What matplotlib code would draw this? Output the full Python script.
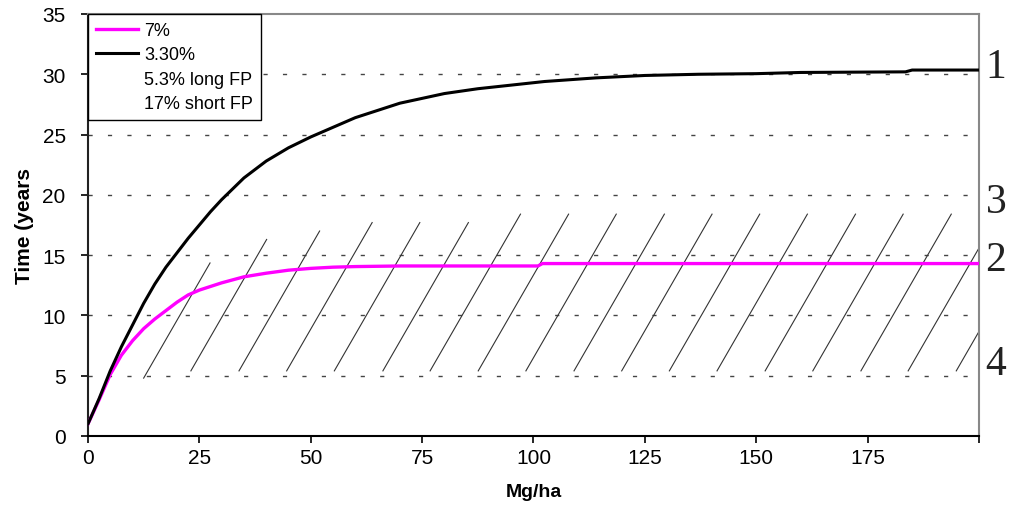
import matplotlib
matplotlib.use("Agg")
import matplotlib.pyplot as plt
from matplotlib.lines import Line2D
import numpy as np

plt.rcParams["font.family"] = ["Liberation Sans", "DejaVu Sans"]

# curves
black_x = [0, 2.5, 5, 7.5, 10, 12.5, 15, 17.5, 20, 22.5, 25, 27.5, 30, 32.5, 35,
           40, 45, 50, 55, 60, 65, 70, 75, 80, 87.5, 95, 102.5, 114, 125, 137,
           150, 160, 183.5, 185, 200]
black_y = [1.0, 3.1, 5.4, 7.4, 9.2, 11.0, 12.6, 14.0, 15.2, 16.4, 17.5, 18.6, 19.6,
           20.5, 21.4, 22.8, 23.9, 24.8, 25.6, 26.4, 27.0, 27.6, 28.0, 28.4, 28.8,
           29.1, 29.4, 29.7, 29.9, 30.0, 30.05, 30.15, 30.2, 30.35, 30.35]

mag_x = [0, 2.5, 5, 7.5, 10, 12.5, 15, 17.5, 20, 22.5, 25, 30, 35, 40, 45, 50,
         55, 60, 70, 101, 102, 200]
mag_y = [1.0, 3.0, 5.1, 6.7, 7.9, 8.9, 9.7, 10.4, 11.1, 11.7, 12.1, 12.7, 13.2,
         13.5, 13.75, 13.9, 14.0, 14.05, 14.1, 14.1, 14.3, 14.3]

# hatched band: bottom x, bottom y, top y of each stroke
hatch_x0 = [12.5, 23.1, 33.9, 44.6, 55.3, 66.2, 76.8, 87.6, 98.3, 109.1, 119.8,
            130.5, 141.2, 152.0, 162.7, 173.5, 184.1, 194.9]
hatch_y0 = [4.8] + [5.4] * 17
hatch_y1 = [14.35, 16.3, 17.0, 17.7, 17.7, 17.7] + [18.4] * 12
hatch_slope = 1.56

labels = ["7%", "3.30%", "5.3% long FP", "17% short FP"]
zone_names = ["1", "3", "2", "4"]
zone_y = [30.6, 19.4, 14.6, 6.0]

fig = plt.figure(figsize=(10.1, 5.06), dpi=100)
ax = fig.add_axes([0.0871, 0.1364, 0.8822, 0.8340])

for x0, y0, y1 in zip(hatch_x0, hatch_y0, hatch_y1):
    ax.plot([x0, x0 + hatch_slope * (y1 - y0)], [y0, y1], color="#333333", lw=0.8, zorder=2)

ax.plot(mag_x, mag_y, color="#ff00ff", lw=2.4, zorder=3)
ax.plot(black_x, black_y, color="black", lw=2.2, zorder=4)

ax.set_xlim(0, 200)
ax.set_ylim(0, 35)
ax.set_xticks(np.arange(0, 201, 25))
ax.set_xticklabels([str(v) for v in range(0, 200, 25)] + [""])
ax.set_yticks(np.arange(0, 36, 5))

ax.yaxis.grid(True, color="#444444", lw=1.0, linestyle=(0, (3, 11)))
ax.set_axisbelow(True)
for g in ax.get_ygridlines()[-1:]:
    g.set_visible(False)

ax.spines["left"].set_color("#222222")
ax.spines["bottom"].set_color("black")
ax.spines["top"].set_color("#888888")
ax.spines["right"].set_color("#888888")
for s in ax.spines.values():
    s.set_linewidth(1.5)
ax.tick_params(direction="out", length=5, width=1.2, labelsize=15)
ax.tick_params(axis="x", pad=4)
ax.tick_params(axis="y", pad=11)

ax.set_xlabel("Mg/ha", fontsize=14, fontweight="bold", labelpad=11)
ax.set_ylabel("Time (years", fontsize=15, fontweight="bold", labelpad=6)

handles = [Line2D([], [], color="#ff00ff", lw=2.4),
           Line2D([], [], color="black", lw=2.2),
           Line2D([], [], color="none"),
           Line2D([], [], color="none")]
leg = ax.legend(handles, labels, loc="upper left", bbox_to_anchor=(0, 1),
                borderaxespad=0, fontsize=13, handlelength=2.3, handletextpad=0.35,
                labelspacing=0.4, fancybox=False, framealpha=1, borderpad=0.45)
leg.get_frame().set_edgecolor("black")
leg.get_frame().set_linewidth(1.0)

tr = ax.get_yaxis_transform()
for name, yv in zip(zone_names, zone_y):
    ax.text(1.019, yv, name, transform=tr, ha="center", va="center",
            fontsize=30, family="Liberation Serif", color="#222222", clip_on=False)

fig.savefig("out.png", dpi=100)
